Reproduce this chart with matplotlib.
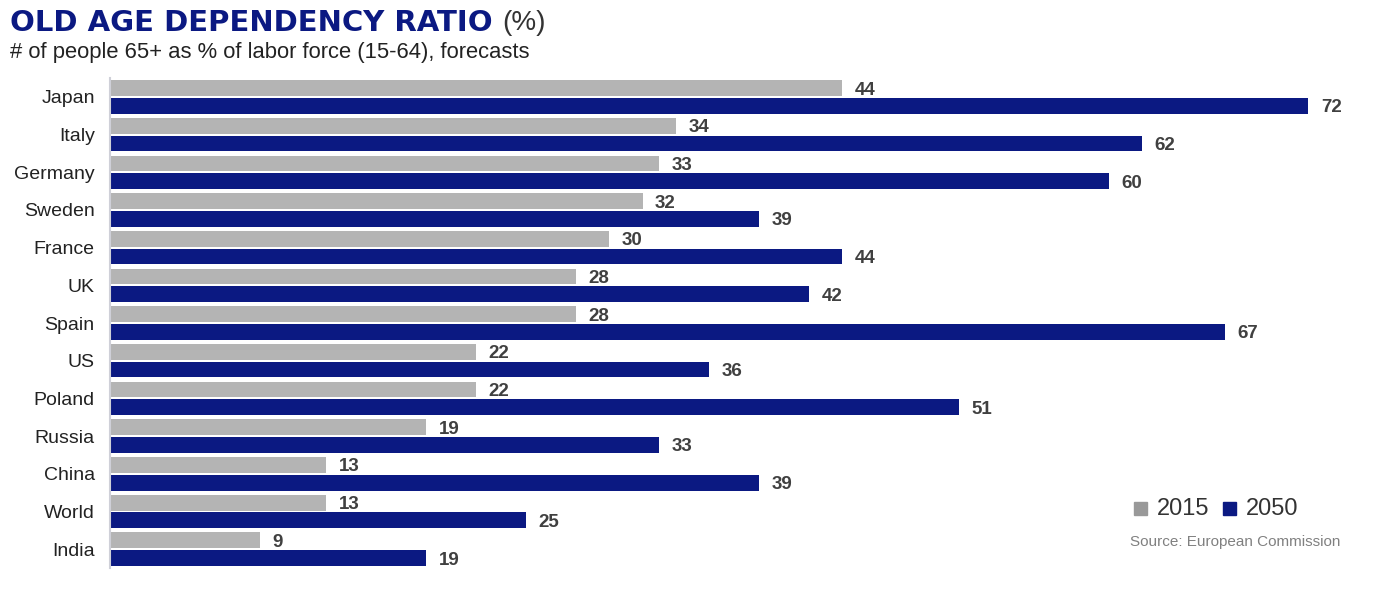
import matplotlib.pyplot as plt
import numpy as np

plt.rcParams["font.family"] = ["Liberation Sans", "DejaVu Sans"]

countries = ["Japan", "Italy", "Germany", "Sweden", "France", "UK", "Spain",
             "US", "Poland", "Russia", "China", "World", "India"]
ratio_2015 = [44, 34, 33, 32, 30, 28, 28, 22, 22, 19, 13, 13, 9]
ratio_2050 = [72, 62, 60, 39, 44, 42, 67, 36, 51, 33, 39, 25, 19]

gray = "#b4b4b4"
navy = "#0b1982"
label_color = "#404040"

fig = plt.figure(figsize=(13.75, 5.96), dpi=100)
ax = fig.add_axes([0.08, 0.047, 0.92, 0.822])

y = np.arange(len(countries))
h = 0.42
ax.barh(y - 0.235, ratio_2015, height=h, color=gray)
ax.barh(y + 0.235, ratio_2050, height=h, color=navy)

for i in range(len(countries)):
    ax.text(ratio_2015[i] + 0.75, y[i] - 0.235, str(ratio_2015[i]), va="center_baseline",
            ha="left", fontsize=13.5, fontweight="bold", color=label_color)
    ax.text(ratio_2050[i] + 0.75, y[i] + 0.235, str(ratio_2050[i]), va="center_baseline",
            ha="left", fontsize=13.5, fontweight="bold", color=label_color)

ax.set_yticks(y)
ax.set_yticklabels(countries, fontsize=14, color="#222222")
ax.tick_params(axis="y", length=0, pad=11)
ax.set_xticks([])
ax.set_xlim(0, 76)
ax.set_ylim(12.5, -0.5)
for s in ["top", "right", "bottom"]:
    ax.spines[s].set_visible(False)
ax.spines["left"].set_color("#cfd0d8")
ax.spines["left"].set_linewidth(1.5)

# title, subtitle
t = fig.text(0.007, 0.962, "OLD AGE DEPENDENCY RATIO", fontsize=21, fontweight="bold",
             color=navy, va="center", family="DejaVu Sans")
fig.canvas.draw()
bb = t.get_window_extent()
fig.text(bb.x1 / fig.bbox.width + 0.007, 0.962, "(%)", fontsize=20, color="#333333", va="center")
fig.text(0.007, 0.912, "# of people 65+ as % of labor force (15-64), forecasts", fontsize=15.8,
         color="#222222", va="center")

# legend
fig.patches.append(plt.Rectangle((0.8245, 0.136), 0.0095, 0.022, color="#999999",
                                 transform=fig.transFigure, figure=fig))
fig.text(0.841, 0.146, "2015", fontsize=17, color="#333333", va="center")
fig.patches.append(plt.Rectangle((0.8895, 0.136), 0.0095, 0.022, color=navy,
                                 transform=fig.transFigure, figure=fig))
fig.text(0.906, 0.146, "2050", fontsize=17, color="#333333", va="center")
fig.text(0.975, 0.091, "Source: European Commission", fontsize=11, color="#808080",
         va="center", ha="right")

fig.savefig("out.png", dpi=100)
